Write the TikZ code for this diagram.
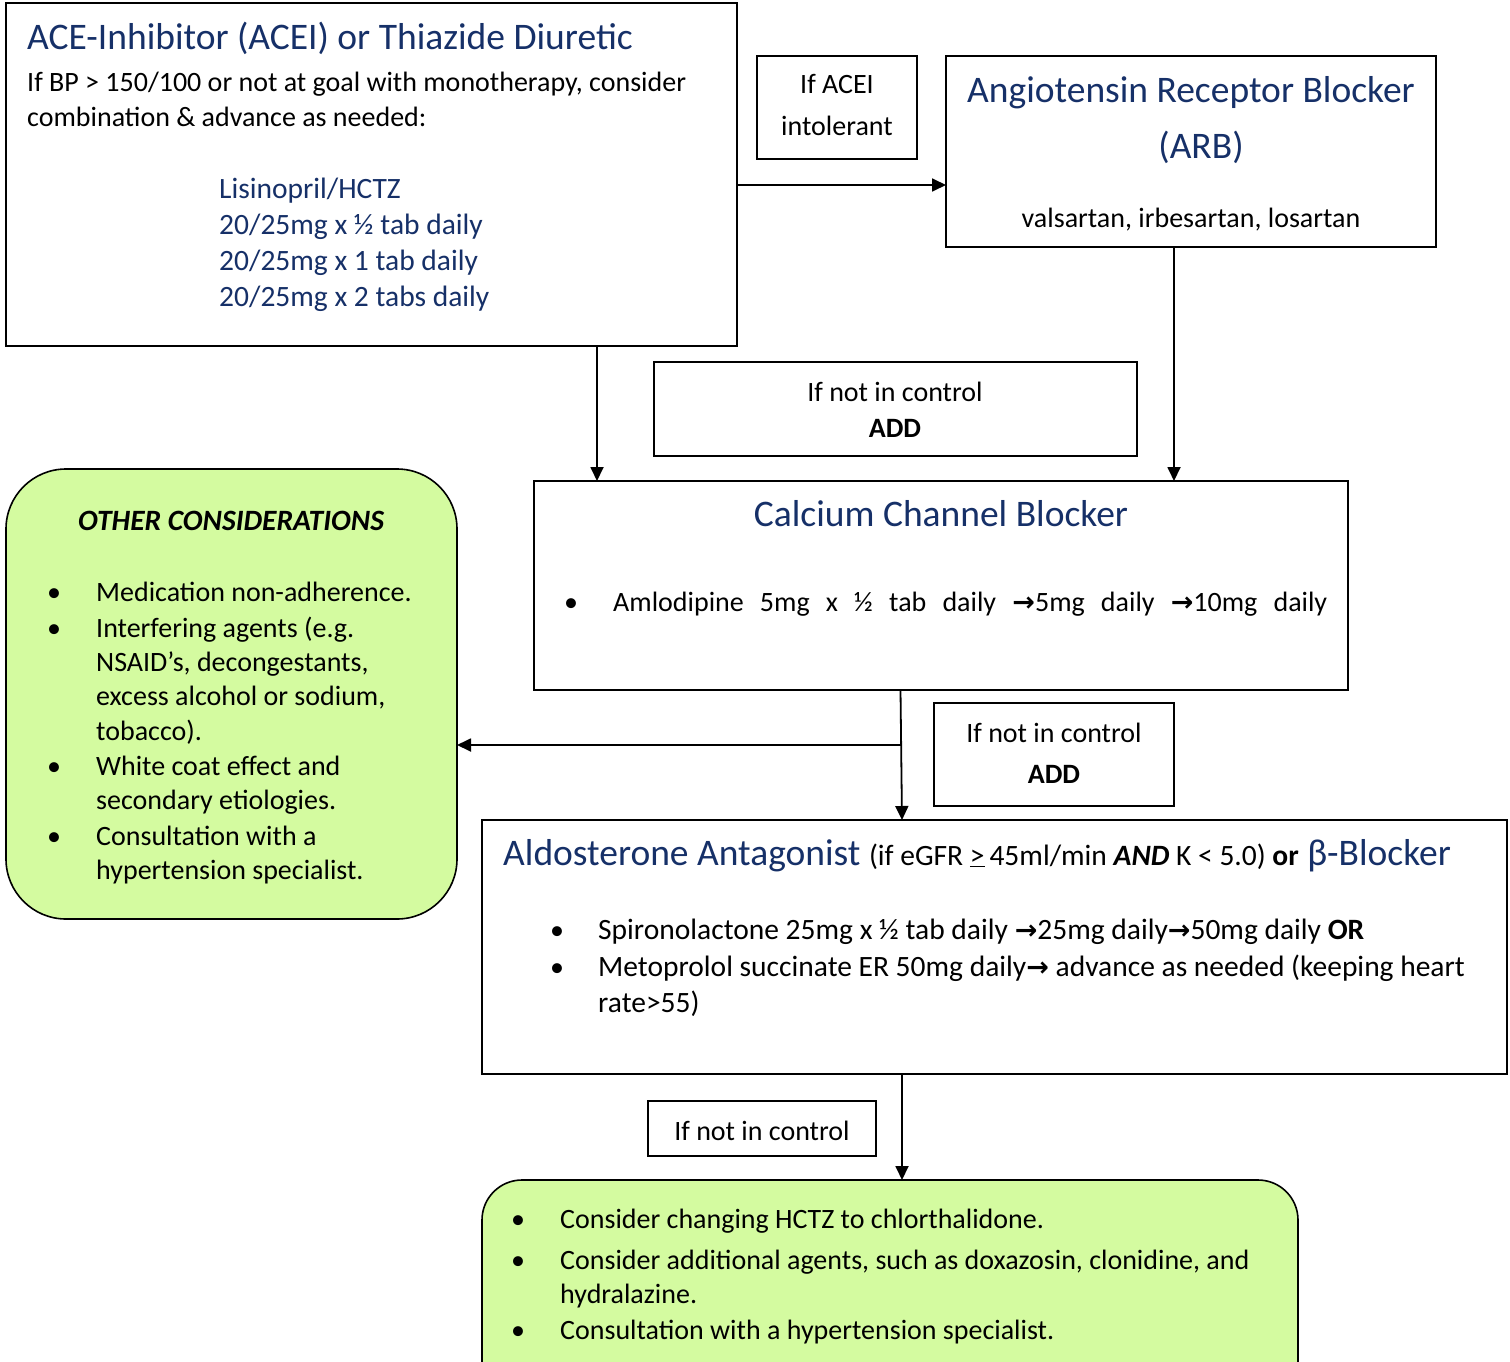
\documentclass[tikz,border=0pt]{standalone}
\usepackage{fontspec}
\setmainfont{Carlito}
\newfontfamily\symf{DejaVu Sans}
\usetikzlibrary{arrows.meta}
\definecolor{navy}{RGB}{22,48,104}
\definecolor{lgreen}{RGB}{212,251,160}
\newcommand{\myarr}{{\symf\bfseries\fontsize{27}{27}\selectfont →}}
\begin{document}
\begin{tikzpicture}[x=1pt,y=-1pt,
  box/.style={draw, line width=1.6pt, inner sep=0pt, outer sep=0pt, anchor=north west},
  gbox/.style={box, fill=lgreen},
  arr/.style={line width=1.8pt, -{Triangle[length=14pt,width=13pt]}},
  body/.style={font=\fontsize{28}{34}\selectfont, inner sep=0pt, anchor=base west},
  bodyl/.style={font=\fontsize{29.5}{34}\selectfont, inner sep=0pt, anchor=base west},
  bodyc/.style={body, anchor=base},
  ttl/.style={font=\fontsize{37.5}{44}\selectfont, text=navy, inner sep=0pt, anchor=base west},
  ttlc/.style={ttl, anchor=base},
  blt/.style={font=\fontsize{28}{34}\selectfont, inner sep=0pt, anchor=base}]
\useasboundingbox (0,0) rectangle (1510,1362);
\clip (0,0) rectangle (1510,1362);
\fill[white] (0,0) rectangle (1510,1362);

% boxes
\node[box, minimum width=731pt, minimum height=343pt] (ace) at (6,3) {};
\node[box, minimum width=160pt, minimum height=103pt] (acei) at (757,56) {};
\node[box, minimum width=490pt, minimum height=191pt] (arb) at (946,56) {};
\node[box, minimum width=483pt, minimum height=94pt] (add1) at (654,362) {};
\node[box, minimum width=814pt, minimum height=209pt] (ccb) at (534,481) {};
\node[gbox, rounded corners=60pt, minimum width=451pt, minimum height=450pt] (other) at (6,469) {};
\node[box, minimum width=240pt, minimum height=103pt] (add2) at (934,703) {};
\node[box, minimum width=1025pt, minimum height=254pt] (aldo) at (482,820) {};
\node[box, minimum width=228pt, minimum height=55pt] (nic) at (648,1101) {};
\node[gbox, rounded corners=40pt, minimum width=816pt, minimum height=240pt] (final) at (482,1180) {};

% ACE box text
\node[ttl] (t1) at (27,50) {ACE-Inhibitor (ACEI) or Thiazide Diuretic};
\node[body] (t2) at (27,92) {If BP > 150/100 or not at goal with monotherapy, consider};
\node[body] (t3) at (27,127) {combination \& advance as needed:};
\node[bodyl, text=navy] (t4) at (219,198) {Lisinopril/HCTZ};
\node[bodyl, text=navy] (t5) at (219,234) {20/25mg x ½ tab daily};
\node[bodyl, text=navy] (t6) at (219,270) {20/25mg x 1 tab daily};
\node[bodyl, text=navy] (t7) at (219,306) {20/25mg x 2 tabs daily};

% ACEI intolerant
\node[bodyc] (t8) at (837,94) {If ACEI};
\node[bodyc] (t9) at (837,136) {intolerant};

% ARB
\node[ttlc] (t10) at (1191,103) {Angiotensin Receptor Blocker};
\node[ttlc] (t11) at (1201,158) {(ARB)};
\node[bodyc] (t12) at (1191,227) {valsartan, irbesartan, losartan};

% add1
\node[bodyc] (t13) at (895,401) {If not in control};
\node[bodyc, font=\fontsize{28}{34}\selectfont\bfseries] (t14) at (895,437) {ADD};

% CCB
\node[ttlc] (t15) at (941,526) {Calcium Channel Blocker};
\node[blt] (b1) at (571,611) {•};
\node[body] (t16) at (613,611) {\makebox[714pt][s]{Amlodipine 5mg x ½ tab daily \myarr5mg daily \myarr10mg daily}};

% Other considerations
\node[bodyc, font=\fontsize{29.5}{34}\selectfont\bfseries\itshape] (t17) at (231,530) {OTHER CONSIDERATIONS};
\node[blt] (b2) at (54,601) {•};
\node[body] (t18) at (96,601) {Medication non-adherence.};
\node[blt] (b3) at (54,637) {•};
\node[body] (t19) at (96,637) {Interfering agents (e.g.};
\node[body] (t20) at (96,671) {NSAID’s, decongestants,};
\node[body] (t21) at (96,705) {excess alcohol or sodium,};
\node[body] (t22) at (96,740) {tobacco).};
\node[blt] (b4) at (54,775) {•};
\node[body] (t23) at (96,775) {White coat effect and};
\node[body] (t24) at (96,809) {secondary etiologies.};
\node[blt] (b5) at (54,845) {•};
\node[body] (t25) at (96,845) {Consultation with a};
\node[body] (t26) at (96,879) {hypertension specialist.};

% add2
\node[bodyc] (t27) at (1054,742) {If not in control};
\node[bodyc, font=\fontsize{28}{34}\selectfont\bfseries] (t28) at (1054,783) {ADD};

% Aldo
\node[ttl] (t29) at (503,865) {Aldosterone Antagonist\ {\color{black}\fontsize{29.5}{34}\selectfont(if eGFR \underline{>}\,45ml/min \textbf{\textit{AND}} K < 5.0) \textbf{or}}\ β-Blocker};
\node[blt] (b6) at (557,939) {•};
\node[bodyl] (t30) at (598,939) {Spironolactone 25mg x ½ tab daily \myarr25mg daily\myarr50mg daily \textbf{OR}};
\node[blt] (b7) at (557,976) {•};
\node[bodyl] (t31) at (598,976) {Metoprolol succinate ER 50mg daily\myarr\ advance as needed (keeping heart};
\node[bodyl] (t32) at (598,1012) {rate>55)};

% nic
\node[bodyc] (t33) at (762,1140) {If not in control};

% final
\node[blt] (b8) at (518,1228) {•};
\node[body] (t34) at (560,1228) {Consider changing HCTZ to chlorthalidone.};
\node[blt] (b9) at (518,1269) {•};
\node[body] (t35) at (560,1269) {Consider additional agents, such as doxazosin, clonidine, and};
\node[body] (t36) at (560,1303) {hydralazine.};
\node[blt] (b10) at (518,1339) {•};
\node[body] (t37) at (560,1339) {Consultation with a hypertension specialist.};

% connectors
\coordinate (p1) at ([yshift=-10.5pt]ace.east);
\draw[arr] (p1) -- (p1 -| arb.west);
\coordinate (p2) at ([xshift=225.5pt]ace.south);
\draw[arr] (p2) -- (p2 |- ccb.north);
\coordinate (p3) at ([xshift=-17pt]arb.south);
\draw[arr] (p3) -- (p3 |- ccb.north);
\coordinate (p4) at ([xshift=-40.5pt]ccb.south);
\coordinate (p5) at ([xshift=-39pt]ccb.south |- aldo.north);
\draw[arr] (p4) -- (p5);
\coordinate (br) at ([yshift=-55pt]p4);
\draw[arr] (br) -- (br -| other.east);
\coordinate (p6) at ([xshift=-92.5pt]aldo.south);
\draw[arr] (p6) -- (p6 |- final.north);
\end{tikzpicture}
\end{document}
